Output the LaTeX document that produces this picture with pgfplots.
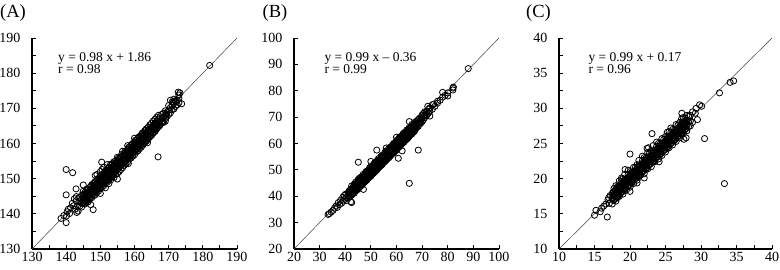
\documentclass[border=0pt]{standalone}
\usepackage{fontspec}
\setmainfont{Liberation Serif}
\usepackage{pgfplots}
\pgfplotsset{compat=1.18}
\pgfplotsset{
  panel/.style={
    scale only axis, anchor=south west,
    axis lines=left, axis line style={-, line width=1.1pt, black},
    tick align=inside, major tick length=4pt, minor tick length=4pt,
    tick style={black, line width=0.9pt},
    /pgf/number format/assume math mode=true,
    tick label style={font=\fontsize{14}{14}\selectfont},
    yticklabel style={inner sep=0pt, xshift=-11.5pt},
    xticklabel style={inner sep=0pt, yshift=-3pt},
    clip=false,
  },
  pts/.style={only marks, mark=o, mark size=3.1pt, mark options={line width=0.8pt, black}},
  diag/.style={no marks, line width=0.5pt, black!75},
}
\begin{document}
\begin{tikzpicture}
\useasboundingbox (0pt,0pt) rectangle (780pt,-270pt);
% ---------------- (A)
\begin{axis}[panel, at={(32pt,-249pt)}, width=205pt, height=211pt,
  xmin=130, xmax=190, ymin=130, ymax=190,
  xtick={130,140,...,190}, ytick={130,140,...,190},
  minor xtick={135,145,...,185}, minor ytick={135,145,...,185}]
\addplot[diag] coordinates {(130,130) (190,190)};
\addplot[pts] coordinates {
(138.5,138.7)(139.3,139.5)(140.0,137.5)(140.1,139.4)(140.3,140.6)(140.6,141.3)(141.0,140.1)(141.3,141.7)
(140.0,145.4)(140.0,152.6)(141.9,151.7)(142.9,147.1)(145.0,148.2)(147.9,141.2)(147.2,142.6)(146.4,143.4)
(141.8,143.0)(142.2,142.3)(142.6,141.3)(142.9,143.7)(143.1,140.4)(143.4,142.3)(143.7,144.6)(143.0,144.9)
(142.4,144.3)(143.5,140.8)(150.4,154.7)(155.0,149.9)(153.3,150.5)(149.1,147.2)(158.2,154.3)(163.8,160.2)
(166.9,156.2)(168.4,166.2)(171.4,171.8)(172.8,174.6)(173.8,171.3)(182.0,182.2)
(144,142.2)(144,143.4)(144,144.6)
(144.5,141.9)(144.5,143.0)(144.5,144.1)(144.5,145.3)
(145,143.1)(145,144.2)(145,145.5)(145,146.4)
(145.5,142.8)(145.5,144.0)(145.5,145.0)(145.5,146.1)
(146,143.6)(146,144.7)(146,145.8)(146,147.0)
(146.5,143.5)(146.5,144.9)(146.5,146.0)(146.5,146.9)
(147,144.3)(147,145.4)(147,146.4)(147,147.6)
(147.5,144.6)(147.5,145.8)(147.5,147.0)(147.5,148.3)
(148,145.2)(148,146.3)(148,147.4)(148,148.6)
(148.5,145.4)(148.5,146.9)(148.5,148.0)(148.5,149.2)(148.5,150.9)
(149,146.1)(149,147.3)(149,148.4)(149,149.6)(149,151.2)
(149.5,146.5)(149.5,147.8)(149.5,148.9)(149.5,150.1)
(150,145.8)(150,147.2)(150,148.5)(150,149.6)(150,150.8)(150,152.0)
(150.5,147.6)(150.5,148.8)(150.5,149.9)(150.5,151.1)(150.5,152.6)
(151,148.0)(151,149.3)(151,150.4)(151,151.5)(151,153.3)
(151.5,147.4)(151.5,148.7)(151.5,149.8)(151.5,151.0)(151.5,152.2)
(152,149.0)(152,150.2)(152,151.3)(152,152.4)(152,154.0)
(152.5,148.6)(152.5,149.7)(152.5,150.9)(152.5,152.0)(152.5,153.2)
(153,149.6)(153,150.4)(153,151.6)(153,152.8)(153,154.1)
(153.5,150.6)(153.5,151.8)(153.5,152.9)(153.5,154.2)
(154,150.3)(154,151.5)(154,152.7)(154,153.6)(154,154.8)
(154.5,151.2)(154.5,152.4)(154.5,153.5)(154.5,154.6)
(155,151.5)(155,152.8)(155,153.9)(155,155.0)(155,156.1)
(155.5,152.0)(155.5,153.2)(155.5,154.4)(155.5,155.6)
(156,152.6)(156,153.9)(156,155.0)(156,156.2)
(156.5,153.1)(156.5,154.3)(156.5,155.4)(156.5,156.6)(156.5,157.8)
(157,153.8)(157,155.0)(157,156.1)(157,157.2)
(157.5,154.2)(157.5,155.3)(157.5,156.5)(157.5,157.7)
(158,154.8)(158,156.0)(158,157.1)(158,158.3)(158,159.4)
(158.5,155.6)(158.5,156.7)(158.5,157.7)(158.5,158.9)
(159,155.9)(159,157.1)(159,158.2)(159,159.5)
(159.5,156.4)(159.5,157.6)(159.5,158.7)(159.5,160.0)
(160,156.8)(160,158.1)(160,159.3)(160,160.4)(160,161.5)
(160.5,157.6)(160.5,158.6)(160.5,159.8)(160.5,161.0)
(161,157.9)(161,159.1)(161,160.3)(161,161.4)
(161.5,158.5)(161.5,159.7)(161.5,160.8)(161.5,162.0)
(162,159.0)(162,160.2)(162,161.3)(162,162.5)
(162.5,159.6)(162.5,160.8)(162.5,161.9)(162.5,163.1)
(163,160.1)(163,161.3)(163,162.4)(163,163.6)
(163.5,160.7)(163.5,161.8)(163.5,162.9)(163.5,164.2)
(164,161.2)(164,162.4)(164,163.5)(164,164.6)
(164.5,161.9)(164.5,162.9)(164.5,164.0)(164.5,165.3)
(165,162.3)(165,163.5)(165,164.6)(165,165.8)
(165.5,163.0)(165.5,164.0)(165.5,165.1)(165.5,166.4)
(166,163.4)(166,164.7)(166,165.7)(166,166.9)
(166.5,164.2)(166.5,165.3)(166.5,166.4)(166.5,167.5)
(167,164.8)(167,165.8)(167,166.9)(167,168.0)
(167.5,165.3)(167.5,166.5)(167.5,167.6)
(168,165.8)(168,167.0)(168,168.3)
(168.5,166.0)(168.5,167.4)(168.5,168.6)
(169,166.3)(169,168.0)(169,169.3)
(169.5,167.8)(169.5,168.9)
(170,168.2)(170,169.5)(170,170.8)
(170.5,168.7)(170.5,170.2)(170.5,172.3)
(171,169.6)(171,170.8)(171,171.8)
(171.5,169.8)(171.5,171.4)(171.5,172.6)
(172,170.5)(172,171.9)(172,172.2)
(172.5,171.0)(172.5,172.4)
(173,171.6)(173,172.9)(173,173.8)(173.3,174.4)
(145.25,142.9)(145.25,143.9)(145.25,144.9)
(145.75,143.4)(145.75,144.5)(145.75,145.5)
(146.25,143.9)(146.25,144.9)(146.25,145.9)(146.25,146.8)
(146.75,144.5)(146.75,145.5)(146.75,146.4)
(147.25,144.9)(147.25,145.9)(147.25,146.9)(147.25,147.9)
(147.75,145.5)(147.75,146.4)(147.75,147.5)
(148.25,145.9)(148.25,146.9)(148.25,147.9)(148.25,148.8)
(148.75,146.5)(148.75,147.5)(148.75,148.4)
(149.25,146.9)(149.25,147.9)(149.25,148.9)(149.25,149.9)
(149.75,147.4)(149.75,148.5)(149.75,149.5)
(150.25,147.9)(150.25,148.9)(150.25,149.9)(150.25,150.9)
(150.75,148.5)(150.75,149.4)(150.75,150.5)
(151.25,148.9)(151.25,149.9)(151.25,150.9)(151.25,151.8)
(151.75,149.5)(151.75,150.5)(151.75,151.4)
(152.25,149.9)(152.25,150.9)(152.25,151.9)(152.25,152.9)
(152.75,150.4)(152.75,151.5)(152.75,152.5)
(153.25,150.9)(153.25,151.9)(153.25,152.9)(153.25,153.8)
(153.75,151.5)(153.75,152.4)(153.75,153.5)
(154.25,151.9)(154.25,152.9)(154.25,153.9)(154.25,154.9)
(154.75,152.4)(154.75,153.5)(154.75,154.4)
(155.25,152.9)(155.25,153.9)(155.25,154.9)(155.25,155.8)
(155.75,153.5)(155.75,154.5)(155.75,155.4)
(156.25,153.9)(156.25,154.9)(156.25,155.9)(156.25,156.9)
(156.75,154.4)(156.75,155.5)(156.75,156.5)
(157.25,154.9)(157.25,155.9)(157.25,156.9)(157.25,157.8)
(157.75,155.5)(157.75,156.4)(157.75,157.5)
(158.25,155.9)(158.25,156.9)(158.25,157.9)(158.25,158.9)
(158.75,156.4)(158.75,157.5)(158.75,158.4)
(159.25,156.9)(159.25,157.9)(159.25,158.9)(159.25,159.8)
(159.75,157.5)(159.75,158.5)(159.75,159.4)
(160.25,157.9)(160.25,158.9)(160.25,159.9)(160.25,160.9)
(160.75,158.4)(160.75,159.5)(160.75,160.5)
(161.25,158.9)(161.25,159.9)(161.25,160.9)(161.25,161.8)
(161.75,159.5)(161.75,160.4)(161.75,161.5)
(162.25,159.9)(162.25,160.9)(162.25,161.9)(162.25,162.9)
(162.75,160.4)(162.75,161.5)(162.75,162.5)
(163.25,160.9)(163.25,161.9)(163.25,162.9)(163.25,163.8)
(163.75,161.5)(163.75,162.4)(163.75,163.5)
(164.25,161.9)(164.25,162.9)(164.25,163.9)
(164.75,162.4)(164.75,163.5)(164.75,164.4)
(165.25,162.9)(165.25,163.9)(165.25,164.9)
(165.75,163.5)(165.75,164.4)(165.75,165.5)
(166.25,163.9)(166.25,164.9)(166.25,165.9)
(166.75,164.5)(166.75,165.5)(166.75,166.4)
(167.25,165.0)(167.25,166.0)(168.25,166.2)(168.25,167.3)(169.25,167.2)(169.25,168.4)
};
\end{axis}
% ---------------- (B)
\begin{axis}[panel, at={(294pt,-249pt)}, width=205pt, height=211pt,
  xmin=20, xmax=100, ymin=20, ymax=100,
  xtick={20,30,...,100}, ytick={20,30,...,100}]
\addplot[diag] coordinates {(20,20) (100,100)};
\addplot[pts] coordinates {
(33.3,33.1)(33.8,33.4)(34.5,34.0)(35.2,34.6)(35.8,35.5)(36.4,36.3)(36.9,35.8)(37.3,37.6)(37.8,36.9)
(38.2,38.5)(38.6,37.4)(39.0,39.6)(39.2,38.2)(39.6,40.3)(39.9,38.9)(40.2,40.8)(40.3,39.5)(40.5,38.4)
(41.0,40.2)(41.2,41.3)(42.2,37.9)(41.5,39.6)(42.5,37.6)(47.1,42.6)
(45.1,52.9)(52.3,57.5)(68.5,57.5)(65.0,44.9)(60.7,54.4)(65.0,68.3)(62.2,57.2)
(41.5,39.8)(41.5,40.9)(41.5,42.0)
(42,40.1)(42,41.2)(42,42.4)
(42.5,40.4)(42.5,41.6)(42.5,42.8)(42.5,43.9)
(43,41.0)(43,42.1)(43,43.3)
(43.5,41.2)(43.5,42.4)(43.5,43.5)(43.5,44.6)
(44,42.0)(44,43.1)(44,44.2)(44,45.3)
(44.5,42.3)(44.5,43.4)(44.5,44.6)
(45,42.7)(45,43.9)(45,45.0)(45,46.3)
(45.5,43.3)(45.5,44.5)(45.5,45.6)(45.5,46.8)
(46,43.8)(46,45.0)(46,46.1)(46,47.2)
(46.5,44.2)(46.5,45.4)(46.5,46.5)
(47,44.9)(47,46.0)(47,47.1)(47,48.3)
(47.5,45.3)(47.5,46.5)(47.5,47.6)
(48,45.8)(48,46.9)(48,48.0)(48,49.2)
(48.5,46.2)(48.5,47.4)(48.5,48.5)(48.5,49.6)
(49,46.9)(49,48.0)(49,49.1)
(49.5,47.3)(49.5,48.4)(49.5,49.5)(49.5,50.8)
(50,47.6)(50,48.8)(50,50.0)(50,51.2)(50,53.2)
(50.5,48.3)(50.5,49.4)(50.5,50.5)
(51,48.7)(51,49.9)(51,51.0)(51,52.1)
(51.5,49.2)(51.5,50.3)(51.5,51.5)(51.5,52.7)
(52,49.7)(52,50.9)(52,52.0)
(52.5,50.1)(52.5,51.3)(52.5,52.4)(52.5,53.6)
(53,50.8)(53,51.9)(53,53.0)(53,54.3)
(53.5,51.2)(53.5,52.4)(53.5,53.5)
(54,51.7)(54,52.8)(54,54.0)(54,55.2)
(54.5,52.1)(54.5,53.3)(54.5,54.5)(54.5,55.6)
(55,52.8)(55,53.9)(55,55.0)
(55.5,53.2)(55.5,54.4)(55.5,55.5)(55.5,56.7)
(56,53.7)(56,54.8)(56,56.0)(56,57.2)(56,58.3)
(56.5,54.2)(56.5,55.4)(56.5,56.5)
(57,54.6)(57,55.8)(57,57.0)(57,58.1)
(57.5,55.2)(57.5,56.3)(57.5,57.4)(57.5,58.6)
(58,55.7)(58,56.9)(58,58.0)
(58.5,56.2)(58.5,57.3)(58.5,58.5)(58.5,59.6)
(59,56.5)(59,57.8)(59,59.0)(59,60.1)
(59.5,57.2)(59.5,58.4)(59.5,59.5)
(60,57.5)(60,58.8)(60,60.0)(60,61.2)(60,62.4)
(60.5,58.2)(60.5,59.3)(60.5,60.5)
(61,58.7)(61,59.8)(61,61.0)(61,62.1)
(61.5,59.1)(61.5,60.3)(61.5,61.4)(61.5,62.6)
(62,59.7)(62,60.9)(62,62.0)
(62.5,60.2)(62.5,61.3)(62.5,62.5)(62.5,63.6)
(63,60.6)(63,61.8)(63,63.0)(63,64.1)
(63.5,61.2)(63.5,62.3)(63.5,63.4)
(64,61.6)(64,62.8)(64,64.0)(64,65.1)
(64.5,62.1)(64.5,63.3)(64.5,64.4)
(65,62.7)(65,63.8)(65,65.0)(65,66.1)
(65.5,63.3)(65.5,64.4)(65.5,65.5)
(66,63.6)(66,64.8)(66,66.0)(66,67.2)
(66.5,64.2)(66.5,65.4)(66.5,66.5)
(67,64.6)(67,65.9)(67,67.0)(67,68.0)
(67.5,65.5)(67.5,66.7)(67.5,67.8)
(68,66.2)(68,67.4)(68,68.6)
(68.5,66.5)(68.5,67.9)(68.5,69.1)
(69,67.3)(69,68.4)(69,69.6)
(69.5,67.8)(69.5,69.2)
(70,68.3)(70,69.6)(70,70.8)
(70.5,69.0)(70.5,70.3)(70.5,71.4)
(71,69.8)(71,70.6)(71,72.0)
(71.5,70.5)(71.5,71.8)
(72,70.9)(72,72.3)(72.2,74.1)
(72.5,71.6)(72.5,73.0)
(73,70.4)(73,72.2)(73,73.5)
(74,73.0)(74,74.7)(74.5,74.9)(75,74.1)
(76,75.3)(76,76.0)(77,76.4)(78,77.6)(78,79.4)(79,78.3)
(80,78.0)(80,79.2)(82,80.3)(82,81.0)(82.2,81.4)(88,88.4)
(42.25,40.6)(42.25,41.7)(42.25,42.7)(42.75,41.2)(42.75,42.3)
(43.25,41.6)(43.25,42.7)(43.25,43.8)(43.75,42.2)(43.75,43.2)(43.75,44.2)
(44.25,42.6)(44.25,43.7)(44.25,44.8)(44.75,43.1)(44.75,44.2)(44.75,45.2)
(45.25,43.6)(45.25,44.7)(45.25,45.8)(45.75,44.2)(45.75,45.2)(45.75,46.2)
(46.25,44.6)(46.25,45.7)(46.25,46.8)(46.75,45.1)(46.75,46.2)(46.75,47.2)
(47.25,45.6)(47.25,46.7)(47.25,47.8)(47.75,46.2)(47.75,47.2)(47.75,48.2)
(48.25,46.6)(48.25,47.7)(48.25,48.8)(48.75,47.1)(48.75,48.2)(48.75,49.2)
(49.25,47.6)(49.25,48.7)(49.25,49.8)(49.75,48.2)(49.75,49.2)(49.75,50.2)
(50.25,48.6)(50.25,49.7)(50.25,50.8)(50.75,49.1)(50.75,50.2)(50.75,51.2)
(51.25,49.6)(51.25,50.7)(51.25,51.8)(51.75,50.2)(51.75,51.2)(51.75,52.2)
(52.25,50.6)(52.25,51.7)(52.25,52.8)(52.75,51.1)(52.75,52.2)(52.75,53.2)
(53.25,51.6)(53.25,52.7)(53.25,53.8)(53.75,52.2)(53.75,53.2)(53.75,54.2)
(54.25,52.6)(54.25,53.7)(54.25,54.8)(54.75,53.1)(54.75,54.2)(54.75,55.2)
(55.25,53.6)(55.25,54.7)(55.25,55.8)(55.75,54.2)(55.75,55.2)(55.75,56.2)
(56.25,54.6)(56.25,55.7)(56.25,56.8)(56.75,55.1)(56.75,56.2)(56.75,57.2)
(57.25,55.6)(57.25,56.7)(57.25,57.8)(57.75,56.2)(57.75,57.2)(57.75,58.2)
(58.25,56.6)(58.25,57.7)(58.25,58.8)(58.75,57.1)(58.75,58.2)(58.75,59.2)
(59.25,57.6)(59.25,58.7)(59.25,59.8)(59.75,58.2)(59.75,59.2)(59.75,60.2)
(60.25,58.6)(60.25,59.7)(60.25,60.8)(60.75,59.1)(60.75,60.2)(60.75,61.2)
(61.25,59.6)(61.25,60.7)(61.25,61.8)(61.75,60.2)(61.75,61.2)(61.75,62.2)
(62.25,60.6)(62.25,61.7)(62.25,62.8)(62.75,61.1)(62.75,62.2)(62.75,63.2)
(63.25,61.6)(63.25,62.7)(63.25,63.8)(63.75,62.2)(63.75,63.2)(63.75,64.2)
(64.25,62.6)(64.25,63.7)(64.25,64.8)(64.75,63.1)(64.75,64.2)(64.75,65.2)
(65.25,63.6)(65.25,64.7)(65.25,65.8)(65.75,64.2)(65.75,65.2)(65.75,66.2)
(66.25,64.6)(66.25,65.7)(66.25,66.8)(66.75,65.1)(66.75,66.2)(66.75,67.2)
(67.25,65.6)(67.25,66.7)(67.75,66.2)(67.75,67.2)
};
\end{axis}
% ---------------- (C)
\begin{axis}[panel, at={(559pt,-249pt)}, width=213pt, height=211pt,
  xmin=10, xmax=40, ymin=10, ymax=40,
  xtick={10,15,...,40}, ytick={10,15,...,40},
  minor xtick={12.5,17.5,...,37.5}, minor ytick={12.5,17.5,...,37.5}]
\addplot[diag] coordinates {(10,10) (40,40)};
\addplot[pts] coordinates {
(15.0,14.8)(15.2,15.5)(15.8,15.3)(16.0,15.8)(16.3,16.1)(16.6,16.4)(16.8,14.55)(16.9,17.0)(17.1,16.5)
(17.2,17.6)(17.0,17.3)(18.8,20.1)(19.3,21.3)(20.0,23.5)(20.0,18.2)(21.0,19.4)(22.6,24.4)(22.4,24.3)
(23.1,26.4)(22.0,20.1)(24.1,22.4)(25.5,26.7)(27.3,29.3)(27.6,25.6)(27.9,25.8)(28.5,29.0)(28.8,29.5)
(29.2,29.3)(29.5,28.4)(29.8,30.5)(30.1,30.3)(29.3,30.0)(30.5,25.7)(32.6,32.2)(33.3,19.3)(34.1,33.7)(34.6,33.9)
(17.5,16.4)(17.5,17.2)(17.5,17.9)
(17.75,17.0)(17.75,17.8)(17.75,18.6)
(18.0,16.8)(18.0,17.5)(18.0,18.3)(18.0,19.0)
(18.25,17.3)(18.25,18.1)(18.25,18.9)
(18.5,17.5)(18.5,18.2)(18.5,18.9)(18.5,19.7)
(18.75,18.0)(18.75,18.8)(18.75,19.6)
(19.0,17.8)(19.0,18.5)(19.0,19.3)(19.0,20.0)
(19.25,18.3)(19.25,19.1)(19.25,19.9)(19.25,20.6)
(19.5,18.4)(19.5,19.2)(19.5,19.9)
(19.75,19.0)(19.75,19.8)(19.75,20.6)(19.75,21.2)
(20.0,18.8)(20.0,19.5)(20.0,20.3)(20.0,21.0)
(20.25,19.4)(20.25,20.1)(20.25,20.9)
(20.5,19.3)(20.5,20.1)(20.5,20.9)(20.5,21.6)
(20.75,20.0)(20.75,20.8)(20.75,21.6)
(21.0,19.8)(21.0,20.5)(21.0,21.3)(21.0,22.0)
(21.25,20.3)(21.25,21.1)(21.25,21.9)(21.25,22.6)
(21.5,20.5)(21.5,21.2)(21.5,21.9)
(21.75,21.0)(21.75,21.8)(21.75,22.6)(21.75,23.2)
(22.0,20.7)(22.0,21.5)(22.0,22.3)(22.0,23.0)
(22.25,21.3)(22.25,22.1)(22.25,22.9)
(22.5,21.4)(22.5,22.2)(22.5,22.9)(22.5,23.7)
(22.75,22.0)(22.75,22.8)(22.75,23.6)
(23.0,21.7)(23.0,22.5)(23.0,23.3)(23.0,24.0)
(23.25,22.4)(23.25,23.1)(23.25,23.9)(23.25,24.7)
(23.5,22.4)(23.5,23.2)(23.5,23.9)
(23.75,23.0)(23.75,23.8)(23.75,24.6)(23.75,25.2)
(24.0,22.8)(24.0,23.5)(24.0,24.3)(24.0,25.0)
(24.25,23.4)(24.25,24.1)(24.25,24.9)
(24.5,23.3)(24.5,24.2)(24.5,24.9)(24.5,25.7)
(24.75,24.0)(24.75,24.8)(24.75,25.6)
(25.0,23.8)(25.0,24.5)(25.0,25.3)(25.0,26.0)
(25.25,24.3)(25.25,25.1)(25.25,25.9)(25.25,26.6)
(25.5,24.4)(25.5,25.2)(25.5,25.9)
(25.75,25.0)(25.75,25.8)(25.75,26.6)(25.75,27.2)
(26.0,24.8)(26.0,25.5)(26.0,26.3)(26.0,27.0)
(26.25,25.4)(26.25,26.1)(26.25,26.9)
(26.5,25.3)(26.5,26.2)(26.5,26.9)(26.5,27.7)
(26.75,26.0)(26.75,26.8)(26.75,27.6)
(27.0,25.8)(27.0,26.5)(27.0,27.3)(27.0,28.0)
(27.25,26.4)(27.25,27.1)(27.25,27.9)(27.25,28.5)
(27.5,26.4)(27.5,27.2)(27.5,27.9)(27.5,28.7)
(27.75,27.0)(27.75,27.8)(27.75,28.6)
(28.0,26.8)(28.0,27.5)(28.0,28.3)(28.0,29.0)
(28.25,27.4)(28.25,28.1)(28.25,28.9)
(28.5,27.5)(28.5,28.2)(28.8,28.0)
(17.625,16.9)(17.625,17.3)(17.625,17.7)(17.625,18.1)
(17.875,17.1)(17.875,17.5)(17.875,17.9)(17.875,18.3)
(18.125,17.4)(18.125,17.8)(18.125,18.2)(18.125,18.6)
(18.375,17.6)(18.375,18.0)(18.375,18.4)(18.375,18.8)
(18.625,17.9)(18.625,18.3)(18.625,18.7)(18.625,19.1)
(18.875,18.1)(18.875,18.5)(18.875,18.9)(18.875,19.3)
(19.125,18.4)(19.125,18.8)(19.125,19.2)(19.125,19.6)
(19.375,18.6)(19.375,19.0)(19.375,19.4)(19.375,19.8)
(19.625,18.9)(19.625,19.3)(19.625,19.7)(19.625,20.1)
(19.875,19.1)(19.875,19.5)(19.875,19.9)(19.875,20.3)
(20.125,19.4)(20.125,19.8)(20.125,20.2)(20.125,20.6)
(20.375,19.6)(20.375,20.0)(20.375,20.4)(20.375,20.8)
(20.625,19.9)(20.625,20.3)(20.625,20.7)(20.625,21.1)
(20.875,20.1)(20.875,20.5)(20.875,20.9)(20.875,21.3)
(21.125,20.4)(21.125,20.8)(21.125,21.2)(21.125,21.6)
(21.375,20.6)(21.375,21.0)(21.375,21.4)(21.375,21.8)
(21.625,20.9)(21.625,21.3)(21.625,21.7)(21.625,22.1)
(21.875,21.1)(21.875,21.5)(21.875,21.9)(21.875,22.3)
(22.125,21.4)(22.125,21.8)(22.125,22.2)(22.125,22.6)
(22.375,21.6)(22.375,22.0)(22.375,22.4)(22.375,22.8)
(22.625,21.9)(22.625,22.3)(22.625,22.7)(22.625,23.1)
(22.875,22.1)(22.875,22.5)(22.875,22.9)(22.875,23.3)
(23.125,22.4)(23.125,22.8)(23.125,23.2)(23.125,23.6)
(23.375,22.6)(23.375,23.0)(23.375,23.4)(23.375,23.8)
(23.625,22.9)(23.625,23.3)(23.625,23.7)(23.625,24.1)
(23.875,23.1)(23.875,23.5)(23.875,23.9)(23.875,24.3)
(24.125,23.4)(24.125,23.8)(24.125,24.2)(24.125,24.6)
(24.375,23.6)(24.375,24.0)(24.375,24.4)(24.375,24.8)
(24.625,23.9)(24.625,24.3)(24.625,24.7)(24.625,25.1)
(24.875,24.1)(24.875,24.5)(24.875,24.9)(24.875,25.3)
(25.125,24.4)(25.125,24.8)(25.125,25.2)(25.125,25.6)
(25.375,24.6)(25.375,25.0)(25.375,25.4)(25.375,25.8)
(25.625,24.9)(25.625,25.3)(25.625,25.7)(25.625,26.1)
(25.875,25.1)(25.875,25.5)(25.875,25.9)(25.875,26.3)
(26.125,25.4)(26.125,25.8)(26.125,26.2)(26.125,26.6)
(26.375,25.6)(26.375,26.0)(26.375,26.4)(26.375,26.8)
(26.625,25.9)(26.625,26.3)(26.625,26.7)(26.625,27.1)
(26.875,26.1)(26.875,26.5)(26.875,26.9)(26.875,27.3)
(27.125,26.4)(27.125,26.8)(27.125,27.2)(27.125,27.6)
(27.375,26.6)(27.375,27.0)(27.375,27.4)(27.375,27.8)
(27.625,26.9)(27.625,27.3)(27.625,27.7)(27.625,28.1)
(27.875,27.1)(27.875,27.5)(27.875,27.9)(27.875,28.3)
};
\end{axis}
% ---------------- text
\node[anchor=base west, inner sep=0pt, font=\fontsize{18.5}{18.5}\selectfont] at (0pt,-17.4pt) {(A)};
\node[anchor=base west, inner sep=0pt, font=\fontsize{18.5}{18.5}\selectfont] at (262.5pt,-17.4pt) {(B)};
\node[anchor=base west, inner sep=0pt, font=\fontsize{18.5}{18.5}\selectfont] at (526pt,-17.4pt) {(C)};
\begin{scope}[every node/.style={anchor=base west, inner sep=0pt, font=\fontsize{13.5}{13.5}\selectfont}]
\node at (58pt,-61.3pt) {y = 0.98 x + 1.86};
\node at (58pt,-73.6pt) {r = 0.98};
\node at (324.3pt,-61.3pt) {y = 0.99 x – 0.36};
\node at (324.3pt,-73.6pt) {r = 0.99};
\node at (588.3pt,-61.3pt) {y = 0.99 x + 0.17};
\node at (588.3pt,-73.6pt) {r = 0.96};
\end{scope}
\end{tikzpicture}
\end{document}
